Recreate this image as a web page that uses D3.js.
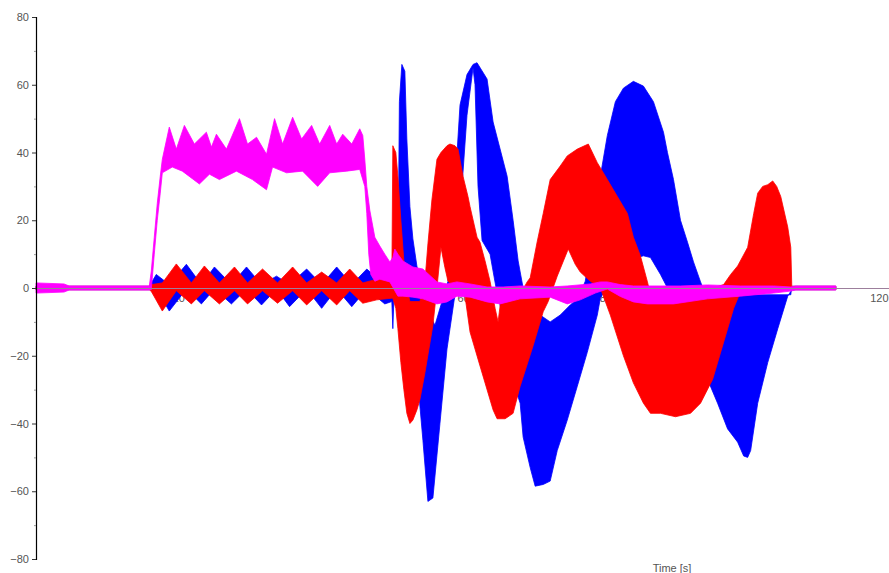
<!DOCTYPE html>
<html><head><meta charset="utf-8">
<script src="https://cdn.jsdelivr.net/npm/d3@7/dist/d3.min.js"></script>
<style>body{margin:0;background:#fff;overflow:hidden}text{font-family:"Liberation Sans",Arial,sans-serif}</style>
</head><body>
<svg id="c" width="889" height="573"></svg>
<script>
// ---- tick values / labels ----
const yTicks = [-80,-60,-40,-20,0,20,40,60,80];
const yMinorTicks = [-70,-50,-30,-10,10,30,50,70];
const xTicks = [20,40,60,80,100,120];
const xTitle = "Time [s]";

// ---- series envelopes: [time s, value] (upper and lower edge of each dense band) ----
const blueUpper = [[0,0.5],[15.92,0.5],[16.9,4],[18.73,1],[21.13,7],[23.24,1],[25.07,6.2],[27.46,1],[29.58,6.2],[31.69,1],[33.8,3.5],[35.63,1],[38.03,5.6],[40.14,1],[42.25,6.2],[44.37,1],[46.48,5.6],[47.89,3],[49.01,2],[50.0,2],[50.42,3],[50.85,0],[51.06,55],[51.41,66],[51.83,64],[52.11,44],[52.54,24],[52.96,14.5],[53.52,6.5],[54.65,-5],[56.06,-11],[57.89,2],[58.87,30],[59.58,54],[60.56,63],[61.41,66],[61.97,66.5],[63.38,61.7],[64.23,49],[66.2,33],[67.04,20],[67.75,8],[68.45,0],[69.44,-5],[70.85,-8],[72.25,-10],[73.66,-8],[75.07,-5],[76.2,-3],[77.18,2],[78.17,15],[79.3,33],[80.28,45],[81.41,55],[82.54,59],[83.94,61],[85.35,59.6],[86.76,55],[88.17,46],[88.73,40],[89.58,32],[90.56,20],[91.55,13.5],[92.39,7.7],[93.38,1.8],[94.08,-2],[106.06,-2],[106.2,0.5],[112.39,0.5]];
const blueLower = [[0,-0.5],[15.92,-0.5],[16.9,-0.3],[18.73,-6.8],[21.13,-0.3],[23.24,-4.7],[25.07,-0.3],[27.46,-4.7],[29.58,-0.3],[31.69,-5],[33.8,-0.3],[35.63,-5.5],[38.03,-0.3],[40.14,-6],[42.25,-0.3],[44.37,-5.5],[46.48,-0.3],[49.01,-4.7],[50.0,-4],[50.14,-12],[50.28,-4],[50.85,-4],[51.41,-5],[51.83,-10],[52.11,-10],[52.96,-20],[53.66,-28],[54.37,-45],[55.07,-63],[55.77,-62],[56.76,-40],[57.75,-18],[59.15,2],[59.86,30],[60.56,51],[61.41,65],[61.69,60],[62.11,30],[62.68,14],[63.8,10],[64.65,0],[65.21,-5],[66.62,-25],[68.03,-34],[68.45,-44],[69.44,-53],[70.14,-58.5],[71.27,-58],[72.25,-57],[73.24,-48],[74.65,-39],[76.06,-29],[77.46,-19],[78.87,-8],[79.3,-3],[80.7,2],[82.82,8],[85.35,9.5],[86.34,9],[87.75,4],[88.73,0],[89.86,-5],[91.97,-15],[93.38,-20],[94.37,-27],[95.77,-34],[97.18,-41.6],[98.59,-45.5],[99.44,-49.6],[100.0,-50],[100.42,-48],[101.41,-34],[102.82,-22],[104.23,-12],[105.63,-2.4],[106.06,-1],[106.2,-0.5],[112.39,-0.5]];

const redUpper = [[0,0.5],[15.92,0.5],[16.2,1],[17.75,1.5],[19.72,7.1],[21.83,1.5],[23.66,6.5],[25.77,1.5],[27.89,6.2],[29.72,1.5],[31.83,5.6],[33.94,1.5],[36.06,6.2],[38.03,1.5],[40.14,4.7],[42.25,1.5],[44.08,5.6],[45.92,1.5],[47.89,2.6],[50.0,2.6],[50.14,42],[50.56,40],[50.85,33],[51.27,20],[51.69,8],[52.11,0],[52.54,-4],[53.94,-4],[54.65,2],[55.07,13],[55.63,26],[56.34,38],[56.9,40],[57.75,42],[58.17,42.5],[58.87,42],[59.3,41],[60.0,33],[60.7,27],[60.99,24],[61.97,15],[62.39,13.5],[63.1,8],[63.8,2],[64.51,-6],[64.93,-10],[65.35,-3],[65.92,-2],[68.03,-2],[69.01,1.8],[69.44,3],[70.42,13.6],[71.27,22],[72.25,32],[73.66,36],[74.65,39],[76.06,41],[77.61,42.5],[78.87,37],[80.28,32],[81.69,27],[83.1,22],[83.94,15],[84.93,9.5],[85.92,1.8],[86.34,-2],[91.97,-2],[96.62,1],[97.61,4],[98.59,6.5],[100.0,12],[100.85,22],[101.41,28],[102.11,30],[102.82,30.5],[103.52,31.6],[104.08,30],[104.65,27],[105.63,18],[106.06,12],[106.2,0.5],[112.39,0.5]];
const redLower = [[0,-0.5],[15.92,-0.5],[16.2,-1],[17.75,-6.8],[19.72,-0.8],[21.83,-4.7],[23.66,-0.8],[25.77,-4.7],[27.89,-0.8],[29.72,-4.7],[31.83,-0.8],[33.94,-4.5],[36.06,-0.8],[38.03,-5],[40.14,-0.8],[42.25,-5],[44.08,-0.8],[45.92,-4.5],[47.89,-3.5],[50.0,-3],[50.14,-3],[50.56,-6],[50.85,-12],[51.27,-22],[51.69,-30],[52.11,-37],[52.54,-40],[52.96,-39],[53.52,-36],[53.94,-33],[54.65,-25],[55.77,-11],[56.34,0],[56.9,12],[57.46,6],[57.89,2],[58.87,0],[60.28,-2.4],[60.99,-13],[62.39,-23],[64.23,-36],[64.79,-38.6],[65.92,-38.6],[67.04,-37],[68.03,-29],[69.86,-17],[71.27,-7],[71.97,-4],[73.24,3.5],[74.79,11.5],[75.77,7],[76.48,4.7],[77.89,2],[79.3,0],[80.7,-8],[82.54,-20],[83.94,-28],[85.35,-34],[86.34,-37],[87.75,-37],[89.86,-38],[91.97,-37],[93.38,-34],[95.07,-27],[96.62,-16],[98.03,-6],[99.01,-1],[99.72,0],[106.06,0],[106.2,-0.5],[112.39,-0.5]];

const magentaUpper = [[0,1.5],[3.94,1.2],[4.65,0.6],[15.92,0.6],[16.2,5],[16.62,15],[17.04,25],[17.46,33],[17.75,38],[18.73,47.5],[19.72,41],[20.85,48],[22.25,42.5],[23.94,46],[24.65,41.6],[25.35,45.4],[26.76,41],[28.59,50],[29.72,42.5],[30.99,44.5],[32.39,39.5],[33.52,50],[34.65,42.5],[36.06,50.4],[37.32,44],[38.73,48],[39.86,42.5],[41.27,48],[42.25,42.5],[43.1,45.4],[44.37,42.5],[45.49,47],[45.92,45],[46.2,38],[46.48,30],[46.9,23],[47.61,15],[48.31,12.4],[49.01,10],[49.72,7.7],[50.14,9],[50.42,11.5],[50.85,10],[51.55,8],[52.96,6.2],[54.37,5.6],[56.34,1.8],[57.75,1.2],[59.15,1.8],[60.99,1.2],[63.38,0.3],[65.63,0.3],[68.03,0.6],[72.25,0.3],[74.65,0.6],[77.89,1.2],[79.3,1.8],[80.28,1.8],[82.11,1.0],[83.94,0.6],[90.56,0.6],[94.37,0.9],[99.01,0.6],[103.66,0.6],[106.06,0.3],[106.76,0.6],[112.39,0.6]];
const magentaLower = [[0,-1.5],[3.94,-1.2],[4.65,-0.6],[15.92,-0.6],[16.2,-0.5],[16.62,10],[17.04,20],[17.46,28],[17.75,34],[19.15,35.7],[20.56,34.5],[22.96,30.7],[24.37,33.6],[25.77,32],[28.17,34.5],[30.42,32],[32.39,29],[33.24,35.7],[35.21,34],[37.46,34.5],[39.58,30],[41.27,34],[43.66,34.5],[45.49,35],[46.2,30],[46.48,22],[46.76,10],[47.04,4],[47.61,2],[48.31,2.6],[49.72,1.8],[50.85,-2.4],[51.55,-2.4],[52.96,-2.7],[54.37,-3.2],[56.34,-4.7],[57.75,-4.1],[59.15,-2.4],[60.99,-2.7],[63.38,-4.1],[65.21,-4.7],[68.03,-3.2],[72.25,-2.7],[74.65,-4.7],[76.48,-3.5],[78.59,-1.5],[80.28,-0.3],[82.11,-2.5],[83.94,-4.1],[85.92,-4.7],[89.58,-4.7],[94.37,-3.2],[99.01,-2.4],[103.66,-1.5],[106.06,-0.9],[106.76,-0.6],[112.39,-0.6]];

const seriesList = [
  {name:"blue", upper: blueUpper, lower: blueLower, color:"#0000ff"},
  {name:"red", upper: redUpper, lower: redLower, color:"#ff0000"},
  {name:"magenta", upper: magentaUpper, lower: magentaLower, color:"#ff00ff"}
];

// ---- drawing ----
const svg = d3.select("#c");
const x = d3.scaleLinear().domain([0,120]).range([36,890]);
const y = d3.scaleLinear().domain([-80,80]).range([559,17]);

// x tick labels (drawn beneath the data, as in the original)
const xg = svg.append("g").attr("transform",`translate(0,${y(0)})`);
xg.call(d3.axisBottom(x).tickValues(xTicks).tickSize(3).tickPadding(3).tickFormat(d3.format("d")));
xg.select(".domain").remove();
xg.selectAll("line").attr("stroke","#888");
xg.selectAll("text").attr("fill","#555").attr("font-size","11px");
// last label kept inside the picture
xg.selectAll(".tick").filter(d => d === xTicks[xTicks.length-1]).select("text")
  .attr("text-anchor","end").attr("x",-2);

// bands
const bandLine = d3.line().x(d=>x(d[0])).y(d=>y(d[1])).curve(d3.curveLinearClosed);
svg.append("g").selectAll("path").data(seriesList).join("path")
  .attr("d", s => bandLine(s.upper.concat(s.lower.slice().reverse())))
  .attr("fill", s=>s.color)
  .attr("stroke", s=>s.color)
  .attr("stroke-width",0.8)
  .attr("stroke-linejoin","round");

// x axis line on top
svg.append("line")
  .attr("x1", x(0)).attr("x2", x(120))
  .attr("y1", Math.round(y(0))+0.5).attr("y2", Math.round(y(0))+0.5)
  .attr("stroke","#9c7f9c").attr("stroke-width",1);

// y axis
const yg = svg.append("g").attr("transform",`translate(${x(0)},0)`);
yg.call(d3.axisLeft(y).tickValues(yTicks).tickSize(4).tickPadding(3).tickFormat(d3.format("d")));
yg.select(".domain").attr("stroke","#000").attr("stroke-width",1.2);
yg.selectAll("line").attr("stroke","#333");
yg.selectAll("text").attr("fill","#555").attr("font-size","11px");
const ym = svg.append("g").attr("transform",`translate(${x(0)},0)`);
ym.call(d3.axisLeft(y).tickValues(yMinorTicks).tickSize(2).tickFormat(""));
ym.select(".domain").remove();
ym.selectAll("line").attr("stroke","#999");

// axis title
svg.append("text").attr("x",672).attr("y",572).attr("text-anchor","middle")
  .attr("fill","#555").attr("font-size","11px").text(xTitle);
</script>
</body></html>
